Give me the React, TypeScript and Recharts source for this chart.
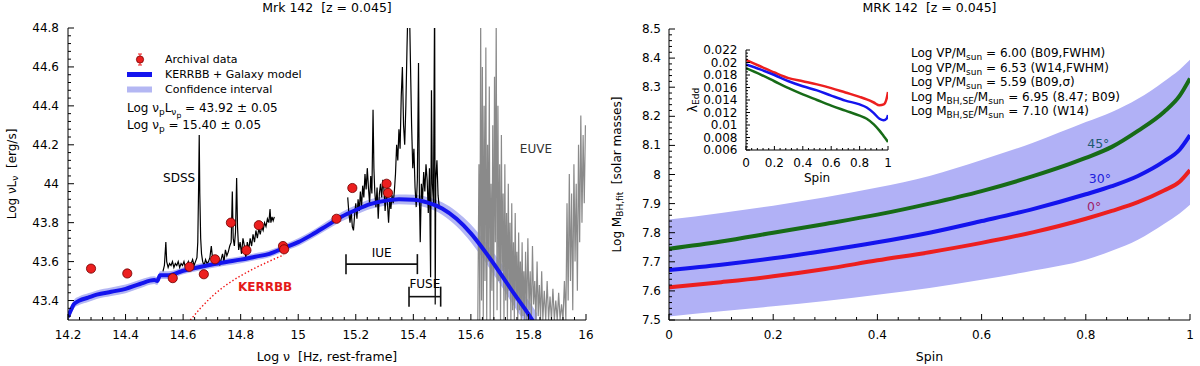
import React from "react";
import { Area, ComposedChart, ErrorBar, Legend, Line, ReferenceDot, Scatter, XAxis, YAxis } from "recharts";

const FONT = "'DejaVu Sans', 'Noto Sans', sans-serif";

// ---------- left panel: SED ----------
const sedXTicks = [14.2, 14.4, 14.6, 14.8, 15, 15.2, 15.4, 15.6, 15.8, 16];
const sedYTicks = [43.4, 43.6, 43.8, 44, 44.2, 44.4, 44.6, 44.8];
const sedXDomain: [number, number] = [14.2, 16];
const sedYDomain: [number, number] = [43.3, 44.8];

const modelFreq = [14.2, 14.21, 14.22, 14.24, 14.27, 14.3, 14.35, 14.4, 14.45, 14.5, 14.51, 14.52, 14.55, 14.6, 14.65, 14.7, 14.75, 14.8, 14.85, 14.9, 14.95, 15.0, 15.05, 15.1, 15.15, 15.2, 15.25, 15.3, 15.35, 15.4, 15.45, 15.5, 15.55, 15.6, 15.65, 15.7, 15.75, 15.8, 15.83];
const modelLum = [43.315, 43.35, 43.38, 43.4, 43.415, 43.43, 43.445, 43.46, 43.485, 43.505, 43.5, 43.53, 43.53, 43.553, 43.57, 43.585, 43.598, 43.61, 43.625, 43.64, 43.67, 43.7, 43.74, 43.785, 43.83, 43.865, 43.895, 43.912, 43.92, 43.918, 43.903, 43.873, 43.82, 43.745, 43.65, 43.545, 43.435, 43.33, 43.26];
const modelLo = [43.295, 43.328, 43.358, 43.378, 43.393, 43.408, 43.423, 43.438, 43.463, 43.485, 43.48, 43.51, 43.51, 43.535, 43.552, 43.567, 43.58, 43.592, 43.607, 43.622, 43.652, 43.68, 43.72, 43.763, 43.806, 43.84, 43.87, 43.887, 43.895, 43.892, 43.875, 43.841, 43.782, 43.7, 43.598, 43.487, 43.371, 43.26, 43.185];
const modelHi = [43.335, 43.372, 43.402, 43.422, 43.437, 43.452, 43.467, 43.482, 43.507, 43.525, 43.52, 43.55, 43.55, 43.571, 43.588, 43.603, 43.616, 43.628, 43.643, 43.658, 43.688, 43.72, 43.76, 43.807, 43.854, 43.89, 43.92, 43.937, 43.945, 43.944, 43.931, 43.905, 43.858, 43.79, 43.702, 43.603, 43.499, 43.4, 43.335];

const kerrFreq = [14.625, 14.66, 14.7, 14.75, 14.8, 14.85, 14.9, 14.95];
const kerrLum = [43.3, 43.36, 43.42, 43.48, 43.527, 43.567, 43.602, 43.635];

const archFreq = [14.28, 14.406, 14.564, 14.622, 14.672, 14.711, 14.766, 14.82, 14.863, 14.947, 14.951, 15.133, 15.188, 15.307, 15.312];
const archLum = [43.564, 43.539, 43.515, 43.573, 43.535, 43.612, 43.8, 43.658, 43.787, 43.68, 43.663, 43.82, 43.978, 44.0, 43.953];
const archErr = [0.012, 0.012, 0.012, 0.012, 0.012, 0.012, 0.012, 0.012, 0.012, 0.012, 0.012, 0.012, 0.012, 0.012, 0.012];

const sdssSpectrum: [number, number][] = [
  [14.53, 43.55], [14.535, 43.58], [14.54, 43.7], [14.543, 43.6], [14.548, 43.57], [14.553, 43.59], [14.558, 43.58],
  [14.563, 43.6], [14.568, 43.57], [14.573, 43.59], [14.578, 43.58], [14.583, 43.6], [14.588, 43.57], [14.593, 43.59],
  [14.598, 43.58], [14.603, 43.6], [14.608, 43.57], [14.613, 43.58], [14.618, 43.6], [14.623, 43.57], [14.628, 43.59],
  [14.633, 43.61], [14.638, 43.58], [14.643, 43.6], [14.648, 43.62], [14.651, 43.7], [14.654, 44.0], [14.656, 44.25],
  [14.658, 43.95], [14.661, 43.72], [14.664, 43.64], [14.668, 43.6], [14.673, 43.58], [14.678, 43.61], [14.683, 43.59],
  [14.688, 43.6], [14.693, 43.62], [14.698, 43.68], [14.702, 43.62], [14.707, 43.59], [14.712, 43.61], [14.717, 43.6],
  [14.722, 43.62], [14.727, 43.58], [14.732, 43.61], [14.737, 43.64], [14.742, 43.6], [14.747, 43.66], [14.752, 43.63],
  [14.757, 43.65], [14.762, 43.68], [14.767, 43.7], [14.771, 43.96], [14.774, 43.72], [14.778, 43.68], [14.782, 43.75],
  [14.786, 44.03], [14.789, 43.78], [14.793, 43.66], [14.798, 43.7], [14.803, 43.64], [14.808, 43.72], [14.813, 43.68],
  [14.818, 43.62], [14.823, 43.7], [14.828, 43.66], [14.833, 43.72], [14.838, 43.68], [14.843, 43.74], [14.848, 43.7],
  [14.853, 43.76], [14.858, 43.72], [14.863, 43.77], [14.868, 43.74], [14.873, 43.78], [14.878, 43.76], [14.883, 43.8],
  [14.888, 43.78], [14.893, 43.82], [14.898, 43.8], [14.902, 43.87], [14.905, 43.8], [14.909, 43.83], [14.913, 43.81],
  [14.917, 43.83],
];

const uvSpectrum: [number, number][] = [
  [15.172, 43.93], [15.176, 43.85], [15.18, 43.8], [15.184, 43.86], [15.188, 43.78], [15.192, 43.76], [15.196, 43.84],
  [15.2, 43.9], [15.204, 43.82], [15.208, 43.92], [15.212, 43.86], [15.216, 43.96], [15.22, 43.88], [15.224, 43.99],
  [15.228, 43.93], [15.232, 44.05], [15.236, 43.97], [15.24, 44.08], [15.244, 43.98], [15.248, 43.9], [15.252, 44.04],
  [15.256, 43.95], [15.26, 44.38], [15.263, 44.08], [15.266, 43.96], [15.27, 43.88], [15.274, 43.98], [15.278, 43.82],
  [15.282, 43.95], [15.286, 44.0], [15.29, 43.93], [15.294, 44.02], [15.298, 43.97], [15.302, 43.86], [15.306, 43.96],
  [15.31, 43.9], [15.314, 43.8], [15.318, 43.92], [15.322, 43.87], [15.326, 43.94], [15.33, 43.9], [15.334, 43.96],
  [15.338, 44.05], [15.342, 44.2], [15.346, 44.12], [15.35, 44.28], [15.354, 44.18], [15.358, 44.45], [15.362, 44.6],
  [15.366, 44.3], [15.37, 44.2], [15.374, 44.4], [15.378, 44.7], [15.382, 44.95], [15.386, 44.95], [15.39, 44.62],
  [15.394, 44.3], [15.398, 44.08], [15.402, 44.18], [15.406, 43.98], [15.41, 43.88], [15.414, 44.02], [15.418, 44.62],
  [15.421, 43.95], [15.424, 43.7], [15.428, 44.0], [15.432, 43.92], [15.436, 44.06], [15.44, 43.96], [15.444, 44.1],
  [15.448, 44.02], [15.452, 43.85], [15.456, 44.08], [15.46, 43.52], [15.463, 44.48], [15.466, 44.0], [15.47, 43.9],
  [15.474, 44.98], [15.476, 43.38], [15.478, 44.02], [15.482, 44.12], [15.486, 43.94], [15.49, 43.88],
];

const euveSpectrum: [number, number][] = [
  [15.624, 43.3], [15.628, 44.1], [15.631, 43.3], [15.634, 44.85], [15.637, 43.4], [15.64, 44.6], [15.643, 43.3],
  [15.646, 44.4], [15.649, 43.5], [15.652, 44.7], [15.655, 43.3], [15.658, 44.2], [15.661, 43.6], [15.664, 44.5],
  [15.667, 43.3], [15.67, 44.0], [15.673, 43.45], [15.676, 44.3], [15.679, 43.3], [15.682, 44.55], [15.685, 43.7],
  [15.688, 44.85], [15.691, 43.35], [15.694, 44.4], [15.697, 43.5], [15.7, 44.1], [15.703, 43.3], [15.706, 44.25],
  [15.709, 43.55], [15.712, 43.95], [15.715, 43.3], [15.718, 44.1], [15.721, 43.4], [15.724, 43.85], [15.727, 43.3],
  [15.73, 44.0], [15.733, 43.45], [15.736, 43.8], [15.739, 43.3], [15.742, 43.9], [15.745, 43.35], [15.748, 43.7],
  [15.751, 43.3], [15.754, 43.85], [15.757, 43.4], [15.76, 43.65], [15.763, 43.3], [15.766, 43.75], [15.769, 43.35],
  [15.772, 43.6], [15.775, 43.3], [15.778, 43.7], [15.781, 43.32], [15.784, 43.55], [15.787, 43.3], [15.79, 43.65],
  [15.794, 43.3], [15.798, 43.72], [15.802, 43.35], [15.806, 43.55], [15.81, 43.3], [15.814, 43.68], [15.818, 43.38],
  [15.822, 43.5], [15.826, 43.3], [15.83, 43.6], [15.834, 43.32], [15.838, 43.48], [15.842, 43.3], [15.846, 43.55],
  [15.85, 43.3], [15.855, 43.45], [15.86, 43.3], [15.865, 43.5], [15.87, 43.3], [15.875, 43.42], [15.88, 43.3],
  [15.885, 43.46], [15.89, 43.3], [15.895, 43.4], [15.9, 43.3], [15.905, 43.44], [15.91, 43.3], [15.915, 43.38],
  [15.92, 43.3], [15.925, 43.5], [15.93, 43.3], [15.934, 43.9], [15.938, 43.4], [15.942, 44.05], [15.946, 43.5],
  [15.95, 43.95], [15.954, 43.35], [15.958, 44.1], [15.962, 43.6], [15.966, 44.0], [15.97, 43.45], [15.974, 44.2],
  [15.978, 43.7], [15.982, 44.35], [15.986, 43.8], [15.99, 44.25], [15.994, 43.9], [15.998, 44.3],
];

const bandNames = ["IUE", "FUSE"];
const bandFrom = [15.166, 15.385];
const bandTo = [15.414, 15.495];
const bandLevel = [43.587, 43.42];

const sedTags = [
  { text: "SDSS", v: 14.586, L: 44.03, color: "#000", bold: false },
  { text: "IUE", v: 15.29, L: 43.645, color: "#000", bold: false },
  { text: "FUSE", v: 15.44, L: 43.485, color: "#000", bold: false },
  { text: "EUVE", v: 15.826, L: 44.18, color: "#333", bold: false },
  { text: "KERRBB", v: 14.885, L: 43.47, color: "#e41a1a", bold: true },
];

const legendLabels = ["Archival data", "KERRBB + Galaxy model", "Confidence interval"];
const fitLines = ["Log ν_{p}L_{ν_{p}} = 43.92 ± 0.05", "Log ν_{p} = 15.40 ± 0.05"];

// ---------- right panel: BH mass vs spin ----------
const spinTicks = [0, 0.2, 0.4, 0.6, 0.8, 1];
const massTicks = [7.5, 7.6, 7.7, 7.8, 7.9, 8, 8.1, 8.2, 8.3, 8.4, 8.5];
const spinGrid = [0, 0.1, 0.2, 0.3, 0.4, 0.5, 0.6, 0.7, 0.8, 0.85, 0.9, 0.95, 0.98, 1.0];
const mass0 = [7.612, 7.63, 7.65, 7.675, 7.705, 7.733, 7.765, 7.802, 7.848, 7.875, 7.905, 7.945, 7.975, 8.015];
const mass30 = [7.672, 7.69, 7.712, 7.738, 7.767, 7.8, 7.84, 7.882, 7.932, 7.96, 7.995, 8.045, 8.085, 8.135];
const mass45 = [7.745, 7.77, 7.8, 7.83, 7.862, 7.9, 7.943, 7.995, 8.057, 8.095, 8.15, 8.215, 8.27, 8.33];
const massLo = [7.512, 7.53, 7.547, 7.565, 7.587, 7.61, 7.638, 7.67, 7.707, 7.738, 7.776, 7.83, 7.866, 7.896];
const massHi = [7.845, 7.868, 7.893, 7.922, 7.955, 7.995, 8.05, 8.11, 8.18, 8.215, 8.26, 8.32, 8.36, 8.394];

const angleTags = [
  { text: "45°", s: 0.824, m: 8.105, color: "#1f5a70" },
  { text: "30°", s: 0.827, m: 7.985, color: "#2020dd" },
  { text: "0°", s: 0.816, m: 7.89, color: "#a0206a" },
];

const massNotes = [
  "Log VP/M_{sun} = 6.00 (B09,FWHM)",
  "Log VP/M_{sun} = 6.53 (W14,FWHM)",
  "Log VP/M_{sun} = 5.59 (B09,σ)",
  "Log M_{BH,SE}/M_{sun} = 6.95 (8.47; B09)",
  "Log M_{BH,SE}/M_{sun} = 7.10 (W14)",
];

// ---------- inset: Eddington ratio ----------
const eddTicks = [0.006, 0.008, 0.01, 0.012, 0.014, 0.016, 0.018, 0.02, 0.022];
const insetSpin = [0, 0.1, 0.2, 0.3, 0.4, 0.5, 0.6, 0.7, 0.8, 0.85, 0.9, 0.94, 0.97, 0.99, 1.0];
const edd0 = [0.0204, 0.0194, 0.0184, 0.0175, 0.017, 0.0165, 0.0159, 0.0152, 0.0145, 0.0141, 0.0136, 0.01315, 0.0133, 0.0142, 0.0153];
const edd30 = [0.0197, 0.0189, 0.018, 0.017, 0.0162, 0.01555, 0.0147, 0.0139, 0.0133, 0.0128, 0.0119, 0.011, 0.01075, 0.011, 0.0116];
const edd45 = [0.0191, 0.0181, 0.017, 0.0159, 0.0149, 0.014, 0.0131, 0.0123, 0.0115, 0.011, 0.0101, 0.0091, 0.0082, 0.0076, 0.0073];

const RED = "#ec1f1f";
const BLUE = "#1414ee";
const GREEN = "#176b17";

// ---------- helpers ----------
function tickSet(majors: number[], parts: number, lo: number, hi: number) {
  const step = (majors[1] - majors[0]) / parts;
  const out: number[] = [];
  const n0 = Math.ceil((lo - majors[0]) / step - 1e-6);
  const n1 = Math.floor((hi - majors[0]) / step + 1e-6);
  for (let k = n0; k <= n1; k++) out.push(+(majors[0] + k * step).toFixed(6));
  return out;
}

type Side = "bottom" | "top" | "left" | "right";
type TickOpt = { majors: number[]; major: number; minor: number; gap: number; size: number };

function axisTick(side: Side, o: TickOpt, labels: boolean) {
  return (props: any) => {
    const { x, y, payload } = props;
    const v = payload.value;
    const big = o.majors.some((m) => Math.abs(m - v) < 1e-7);
    const len = big ? o.major : o.minor;
    let x2 = x;
    let y2 = y;
    if (side === "bottom") y2 = y - len;
    if (side === "top") y2 = y + len;
    if (side === "left") x2 = x + len;
    if (side === "right") x2 = x - len;
    let label = null;
    if (labels && big) {
      label =
        side === "bottom" ? (
          <text x={x} y={y + o.gap} textAnchor="middle" dominantBaseline="central" fontSize={o.size} fontFamily={FONT} fill="#000">
            {String(v)}
          </text>
        ) : (
          <text x={x - o.gap} y={y} textAnchor="end" dominantBaseline="central" fontSize={o.size} fontFamily={FONT} fill="#000">
            {String(v)}
          </text>
        );
    }
    return (
      <g>
        <line x1={x} y1={y} x2={x2} y2={y2} stroke="#000" strokeWidth={1} />
        {label}
      </g>
    );
  };
}

function frame(xo: TickOpt, yo: TickOpt, xDomain: [number, number], yDomain: [number, number], parts: [number, number], dims: { xh: number; yw: number; xKey: string; yKey?: string; xTitle?: any; yTitle?: any }) {
  const xt = tickSet(xo.majors, parts[0], xDomain[0], xDomain[1]);
  const yt = tickSet(yo.majors, parts[1], yDomain[0], yDomain[1]);
  const common = { type: "number" as const, allowDataOverflow: true, interval: 0 as const, tickSize: 0, tickMargin: 0, tickLine: false, axisLine: { stroke: "#000", strokeWidth: 1 } };
  return [
    <XAxis key="xb" {...common} dataKey={dims.xKey} domain={xDomain} ticks={xt} tick={axisTick("bottom", xo, true)} height={dims.xh} label={dims.xTitle} />,
    <XAxis key="xt" {...common} xAxisId="top" orientation="top" domain={xDomain} ticks={xt} tick={axisTick("top", xo, false)} height={0} />,
    <YAxis key="yl" {...common} dataKey={dims.yKey} domain={yDomain} ticks={yt} tick={axisTick("left", yo, true)} width={dims.yw} label={dims.yTitle} />,
    <YAxis key="yr" {...common} yAxisId="right" orientation="right" domain={yDomain} ticks={yt} tick={axisTick("right", yo, false)} width={0} />,
  ];
}

function rich(s: string, depth = 0): React.ReactNode[] {
  const out: React.ReactNode[] = [];
  let buf = "";
  let i = 0;
  while (i < s.length) {
    if (s[i] === "_" && s[i + 1] === "{") {
      let d = 0;
      let j = i + 1;
      for (; j < s.length; j++) {
        if (s[j] === "{") d++;
        else if (s[j] === "}") {
          d--;
          if (d === 0) break;
        }
      }
      if (buf) out.push(buf);
      buf = "";
      out.push(
        <span key={i} style={{ fontSize: depth ? "0.85em" : "0.75em", verticalAlign: "sub", lineHeight: 0 }}>
          {rich(s.slice(i + 2, j), depth + 1)}
        </span>
      );
      i = j + 1;
    } else {
      buf += s[i];
      i++;
    }
  }
  if (buf) out.push(buf);
  return out;
}

const rotText = (cx: number, cy: number, children: React.ReactNode) => (
  <text x={cx} y={cy} transform={`rotate(-90 ${cx} ${cy})`} textAnchor="middle" dominantBaseline="central" fontSize={12} fontFamily={FONT} fill="#000">
    {children}
  </text>
);

// ---------- left chart ----------
const modelRows = modelFreq.map((v, i) => ({ v, L: modelLum[i], lo: modelLo[i], hi: modelHi[i] }));
const kerrRows = kerrFreq.map((v, i) => ({ v, L: kerrLum[i] }));
const archRows = archFreq.map((v, i) => ({ v, L: archLum[i], err: archErr[i] }));
const sdssRows = sdssSpectrum.map(([v, L]) => ({ v, L }));
const uvRows = uvSpectrum.map(([v, L]) => ({ v, L }));
const euveRows = euveSpectrum.map(([v, L]) => ({ v, L }));
const bandRows = bandNames.map((n, i) => ({ v: (bandFrom[i] + bandTo[i]) / 2, L: bandLevel[i], ex: (bandTo[i] - bandFrom[i]) / 2 }));

const sedXTitle = (p: any) => {
  const vb = p.viewBox;
  return (
    <text x={vb.x + vb.width / 2} y={vb.y + 36} textAnchor="middle" dominantBaseline="central" fontSize={12.5} fontFamily={FONT} fill="#000">
      {"Log ν\u00a0\u00a0[Hz, rest-frame]"}
    </text>
  );
};
const sedYTitle = (p: any) => {
  const vb = p.viewBox;
  return rotText(vb.x + 12, vb.y + vb.height / 2, (
    <>
      Log νL<tspan dy={3} fontSize={9}>ν</tspan>
      <tspan dy={-3}>{"\u00a0\u00a0[erg/s]"}</tspan>
    </>
  ));
};

const SedLegend = () => (
  <div style={{ fontFamily: FONT, fontSize: 12, color: "#000", whiteSpace: "nowrap" }}>
    {legendLabels.map((t, i) => (
      <div key={t} style={{ height: 15, display: "flex", alignItems: "center", fontSize: 11 }}>
        <svg width={38} height={15} style={{ display: "block" }}>
          {i === 0 && (
            <g>
              <line x1={13} x2={13} y1={2} y2={13} stroke={RED} strokeWidth={1} />
              <line x1={11} x2={15} y1={2} y2={2} stroke={RED} strokeWidth={1} />
              <line x1={11} x2={15} y1={13} y2={13} stroke={RED} strokeWidth={1} />
              <circle cx={13} cy={7.5} r={3.6} fill={RED} stroke="#700" strokeWidth={0.8} />
            </g>
          )}
          {i === 1 && <rect x={0} y={5} width={25} height={5} fill={BLUE} />}
          {i === 2 && <rect x={0} y={4.5} width={25} height={6} fill="#b4b7f3" />}
        </svg>
        <span>{t}</span>
      </div>
    ))}
    <div style={{ height: 3 }} />
    {fitLines.map((t) => (
      <div key={t} style={{ height: 17, lineHeight: "17px" }}>
        {rich(t)}
      </div>
    ))}
  </div>
);

const sedXOpt: TickOpt = { majors: sedXTicks, major: 6, minor: 3, gap: 15, size: 12 };
const sedYOpt: TickOpt = { majors: sedYTicks, major: 6, minor: 3, gap: 9, size: 12 };

function SedChart() {
  return (
    <ComposedChart width={600} height={366} margin={{ top: 28, right: 14, bottom: 0, left: 0 }} style={{ fontFamily: FONT }}>
      {frame(sedXOpt, sedYOpt, sedXDomain, sedYDomain, [5, 5], { xh: 46, yw: 68, xKey: "v", yKey: "L", xTitle: sedXTitle, yTitle: sedYTitle })}
      <Legend content={SedLegend} layout="horizontal" verticalAlign="middle" align="center" wrapperStyle={{ left: 127, top: 52, width: "auto" }} />
      <Area data={modelRows} dataKey={(d: any) => [d.lo, d.hi]} type="monotone" fill="#b4b7f3" fillOpacity={1} stroke="none" isAnimationActive={false} />
      <Line data={euveRows} dataKey="L" stroke="#8a8a8a" strokeWidth={1.2} dot={false} isAnimationActive={false} />
      <Line data={sdssRows} dataKey="L" stroke="#000" strokeWidth={1.2} dot={false} isAnimationActive={false} />
      <Line data={uvRows} dataKey="L" stroke="#000" strokeWidth={1.2} dot={false} isAnimationActive={false} />
      <Line data={kerrRows} dataKey="L" type="monotone" stroke="#f01010" strokeWidth={1.4} strokeDasharray="1.4 2.2" dot={false} isAnimationActive={false} />
      <Line data={modelRows} dataKey="L" type="monotone" stroke={BLUE} strokeWidth={4} dot={false} isAnimationActive={false} />
      <Scatter data={bandRows} dataKey="L" shape={() => <g />} isAnimationActive={false}>
        <ErrorBar dataKey="ex" direction="x" width={10} stroke="#111" strokeWidth={1.6} />
      </Scatter>
      <Scatter
        data={archRows}
        dataKey="L"
        isAnimationActive={false}
        shape={(p: any) => <circle cx={p.cx} cy={p.cy} r={4.6} fill={RED} stroke="#6d0000" strokeWidth={0.8} />}
      >
        <ErrorBar dataKey="err" direction="y" width={4} stroke={RED} strokeWidth={1} />
      </Scatter>
      {sedTags.map((t) => (
        <ReferenceDot
          key={t.text}
          x={t.v}
          y={t.L}
          r={0}
          fill="none"
          stroke="none"
          label={{ value: t.text, position: "center", fill: t.color, fontSize: 12, fontWeight: t.bold ? 700 : 400, fontFamily: FONT }}
        />
      ))}
    </ComposedChart>
  );
}

// ---------- right chart ----------
const massRows = spinGrid.map((s, i) => ({ s, m0: mass0[i], m30: mass30[i], m45: mass45[i], lo: massLo[i], hi: massHi[i] }));

const spinTitle = (p: any) => {
  const vb = p.viewBox;
  return (
    <text x={vb.x + vb.width / 2} y={vb.y + 36} textAnchor="middle" dominantBaseline="central" fontSize={12.5} fontFamily={FONT} fill="#000">
      Spin
    </text>
  );
};
const massTitle = (p: any) => {
  const vb = p.viewBox;
  return rotText(vb.x + 17, vb.y + vb.height / 2, (
    <>
      Log M<tspan dy={3} fontSize={9}>BH,fit</tspan>
      <tspan dy={-3}>{"\u00a0\u00a0[solar masses]"}</tspan>
    </>
  ));
};

const spinOpt: TickOpt = { majors: spinTicks, major: 6, minor: 3, gap: 15, size: 12 };
const massOpt: TickOpt = { majors: massTicks, major: 6, minor: 3, gap: 8, size: 12 };

function MassChart() {
  return (
    <ComposedChart width={600} height={366} data={massRows} margin={{ top: 29, right: 10, bottom: 0, left: 0 }} style={{ fontFamily: FONT }}>
      {frame(spinOpt, massOpt, [0, 1], [7.5, 8.5], [5, 5], { xh: 46, yw: 69, xKey: "s", xTitle: spinTitle, yTitle: massTitle })}
      <Area dataKey={(d: any) => [d.lo, d.hi]} type="monotone" fill="#b1b1f6" fillOpacity={1} stroke="none" isAnimationActive={false} />
      <Line dataKey="m45" type="monotone" stroke={GREEN} strokeWidth={4} dot={false} isAnimationActive={false} />
      <Line dataKey="m30" type="monotone" stroke={BLUE} strokeWidth={4} dot={false} isAnimationActive={false} />
      <Line dataKey="m0" type="monotone" stroke={RED} strokeWidth={4} dot={false} isAnimationActive={false} />
      {angleTags.map((t) => (
        <ReferenceDot
          key={t.text}
          x={t.s}
          y={t.m}
          r={0}
          fill="none"
          stroke="none"
          label={{ value: t.text, position: "center", fill: t.color, fontSize: 12.5, fontFamily: FONT }}
        />
      ))}
    </ComposedChart>
  );
}

// ---------- inset ----------
const eddRows = insetSpin.map((s, i) => ({ s, e0: edd0[i], e30: edd30[i], e45: edd45[i] }));

const insetSpinTitle = (p: any) => {
  const vb = p.viewBox;
  return (
    <text x={vb.x + vb.width / 2} y={vb.y + 28} textAnchor="middle" dominantBaseline="central" fontSize={12} fontFamily={FONT} fill="#000">
      Spin
    </text>
  );
};
const eddTitle = (p: any) => {
  const vb = p.viewBox;
  return rotText(vb.x + 17, vb.y + vb.height / 2, (
    <>
      λ<tspan dy={3} fontSize={9}>Edd</tspan>
    </>
  ));
};

const insetXOpt: TickOpt = { majors: spinTicks, major: 4, minor: 2, gap: 13, size: 12 };
const insetYOpt: TickOpt = { majors: eddTicks, major: 4, minor: 2, gap: 8.5, size: 12 };

function EddInset() {
  return (
    <ComposedChart width={222} height={160} data={eddRows} margin={{ top: 20, right: 10, bottom: 0, left: 0 }} style={{ fontFamily: FONT }}>
      {frame(insetXOpt, insetYOpt, [0, 1], [0.006, 0.022], [5, 4], { xh: 40, yw: 70, xKey: "s", xTitle: insetSpinTitle, yTitle: eddTitle })}
      <Line dataKey="e0" type="monotone" stroke={RED} strokeWidth={2.5} dot={false} isAnimationActive={false} />
      <Line dataKey="e30" type="monotone" stroke={BLUE} strokeWidth={2.5} dot={false} isAnimationActive={false} />
      <Line dataKey="e45" type="monotone" stroke={GREEN} strokeWidth={2.5} dot={false} isAnimationActive={false} />
    </ComposedChart>
  );
}

export default function App() {
  const titleStyle: React.CSSProperties = { position: "absolute", top: 0, height: 16, lineHeight: "16px", fontSize: 12.5, textAlign: "center", whiteSpace: "pre", fontFamily: FONT, color: "#000" };
  return (
    <div style={{ position: "absolute", left: 0, top: 0, width: 1200, height: 366, background: "#fff", fontFamily: FONT }}>
      <div style={{ position: "absolute", left: 0, top: 0 }}>
        <SedChart />
      </div>
      <div style={{ position: "absolute", left: 600, top: 0 }}>
        <MassChart />
      </div>
      <div style={{ position: "absolute", left: 676, top: 30 }}>
        <EddInset />
      </div>
      <div style={{ ...titleStyle, left: 68, width: 518 }}>{"Mrk 142  [z = 0.045]"}</div>
      <div style={{ ...titleStyle, left: 669, width: 521 }}>{"MRK 142  [z = 0.045]"}</div>
      <div style={{ position: "absolute", left: 911, top: 46, fontSize: 12, fontFamily: FONT, color: "#000", whiteSpace: "nowrap" }}>
        {massNotes.map((t) => (
          <div key={t} style={{ height: 14.5, lineHeight: "14.5px" }}>
            {rich(t)}
          </div>
        ))}
      </div>
    </div>
  );
}
